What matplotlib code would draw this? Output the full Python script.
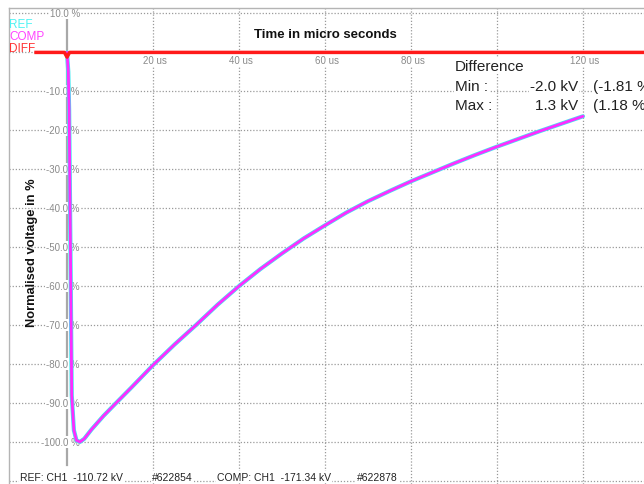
import matplotlib
matplotlib.use("Agg")
import matplotlib.pyplot as plt
from matplotlib import font_manager

# ---------------- data ----------------
time_us = [0, 0.3, 0.5, 0.8, 1.1, 1.6, 2.2, 3.0, 4.0, 5.7, 8.5, 11.6, 15, 20, 25, 30,
           35, 40, 45, 50, 55, 60, 65, 70, 75, 80, 85, 90, 95, 100, 105, 110, 115, 120]
ref_pct = [0, -5, -15, -50, -88, -97, -99.6, -100, -99.2, -96.8, -93.3, -89.8, -86, -80.3,
           -75.0, -70.0, -64.8, -60.0, -55.6, -51.6, -47.8, -44.4, -41.1, -38.2, -35.6,
           -33.1, -30.8, -28.5, -26.3, -24.2, -22.2, -20.2, -18.3, -16.4]
comp_pct = list(ref_pct)
diff_t = [-7.2, -0.6, 0.0, 0.6, 134.5]
diff_pct = [0, 0, -1.2, 0, 0]

y_ticks = [10, 0, -10, -20, -30, -40, -50, -60, -70, -80, -90, -100, -110]
y_tick_labels = {10: "10.0 %", -10: "-10.0 %", -20: "-20.0 %", -30: "-30.0 %",
                 -40: "-40.0 %", -50: "-50.0 %", -60: "-60.0 %", -70: "-70.0 %",
                 -80: "-80.0 %", -90: "-90.0 %", -100: "-100.0 %"}
x_ticks = [20, 40, 60, 80, 100, 120]
x_tick_labels = {20: "20 us", 40: "40 us", 60: "60 us", 80: "80 us", 120: "120 us"}

legend_names = ["REF", "COMP", "DIFF"]
legend_colors = ["#4ff3f3", "#ff44ff", "#ff3333"]

diff_title = "Difference"
diff_rows = [("Min :", "-2.0 kV", "(-1.81 %)"), ("Max :", "1.3 kV", "(1.18 %)")]
footer = ["REF: CH1  -110.72 kV", "#622854", "COMP: CH1  -171.34 kV", "#622878"]
footer_x = [20, 152, 217, 357]

# ---------------- fonts ----------------
installed = {f.name for f in font_manager.fontManager.ttflist}
sans = "Liberation Sans" if "Liberation Sans" in installed else "DejaVu Sans"
narrow = "Liberation Sans Narrow" if "Liberation Sans Narrow" in installed else sans

W, H = 644, 485
fig = plt.figure(figsize=(W / 100, H / 100), dpi=100)
fig.patch.set_facecolor("white")


def fpos(px, py):
    return px / W, 1 - py / H


ax = fig.add_axes([9 / W, 0, (W - 9) / W, (H - 9) / H])
ax.set_xlim(-13.49, 134.2)
ax.set_ylim(-110.8, 11.4)
for s in ["right", "bottom"]:
    ax.spines[s].set_visible(False)
for s in ["left", "top"]:
    ax.spines[s].set_color("#b4b4b4")
    ax.spines[s].set_linewidth(1.0)
ax.set_xticks(x_ticks)
ax.set_yticks(y_ticks)
ax.tick_params(length=0, labelleft=False, labelbottom=False)
ax.grid(True, color="#9a9a9a", linestyle=(0, (1, 1.5)), linewidth=0.9, zorder=0)
ax.set_axisbelow(True)

# y axis line at t=0
ax.plot([0, 0], [-106, 8.5], color="#a8a8a8", lw=1.6, zorder=1)

# tick labels
for v, lab in y_tick_labels.items():
    ax.text(3.0, v, lab, ha="right", va="center", fontsize=7, color="#8a8a8a",
            family=narrow, zorder=2,
            bbox=dict(facecolor="white", edgecolor="none", pad=0.6))
for t, lab in x_tick_labels.items():
    ax.text(t + 0.5, -2.0, lab, ha="center", va="center", fontsize=7, color="#8a8a8a",
            family=narrow, zorder=2,
            bbox=dict(facecolor="white", edgecolor="none", pad=0.6))

# curves
ax.plot(time_us, ref_pct, color="#40e8f0", lw=3.0, zorder=4, solid_capstyle="round")
ax.plot(time_us, comp_pct, color="#ff2cff", lw=2.0, zorder=5, solid_capstyle="round")
ax.plot(diff_t, diff_pct, color="#ff1a1a", lw=2.5, zorder=6)

# legend texts
for i, (n, c) in enumerate(zip(legend_names, legend_colors)):
    x, y = fpos(9, 24.5 + 12.3 * i)
    fig.text(x, y, n, color=c, fontsize=8.5, family=sans, ha="left", va="center", zorder=7)

# titles
x, y = fpos(325, 35)
fig.text(x, y, "Time in micro seconds", fontsize=9.5, fontweight="bold", family=sans,
         ha="center", va="center", color="#111111")
x, y = fpos(32, 253)
fig.text(x, y, "Normalised voltage in %", fontsize=9.3, fontweight="bold", family=sans,
         ha="center", va="center", rotation=90, color="#111111")

# difference block
box = dict(facecolor="white", edgecolor="none", pad=1.0)
x, y = fpos(455, 67)
fig.text(x, y, diff_title, fontsize=11, family=sans, ha="left", va="center",
         color="#222222", bbox=box, zorder=8)
for i, (a, b, c) in enumerate(diff_rows):
    yy = 87 + 19 * i
    x, y = fpos(455, yy)
    fig.text(x, y, a, fontsize=11, family=sans, ha="left", va="center",
             color="#222222", bbox=box, zorder=8)
    x, y = fpos(578, yy)
    fig.text(x, y, b, fontsize=11, family=sans, ha="right", va="center",
             color="#222222", bbox=box, zorder=8)
    x, y = fpos(593, yy)
    fig.text(x, y, c, fontsize=11, family=sans, ha="left", va="center",
             color="#222222", bbox=box, zorder=8)

# footer
for s, px in zip(footer, footer_x):
    x, y = fpos(px, 478)
    fig.text(x, y, s, fontsize=7.5, family=narrow, ha="left", va="center",
             color="#222222", bbox=dict(facecolor="white", edgecolor="none", pad=0.8), zorder=8)

fig.savefig("out.png", dpi=100, facecolor="white")
